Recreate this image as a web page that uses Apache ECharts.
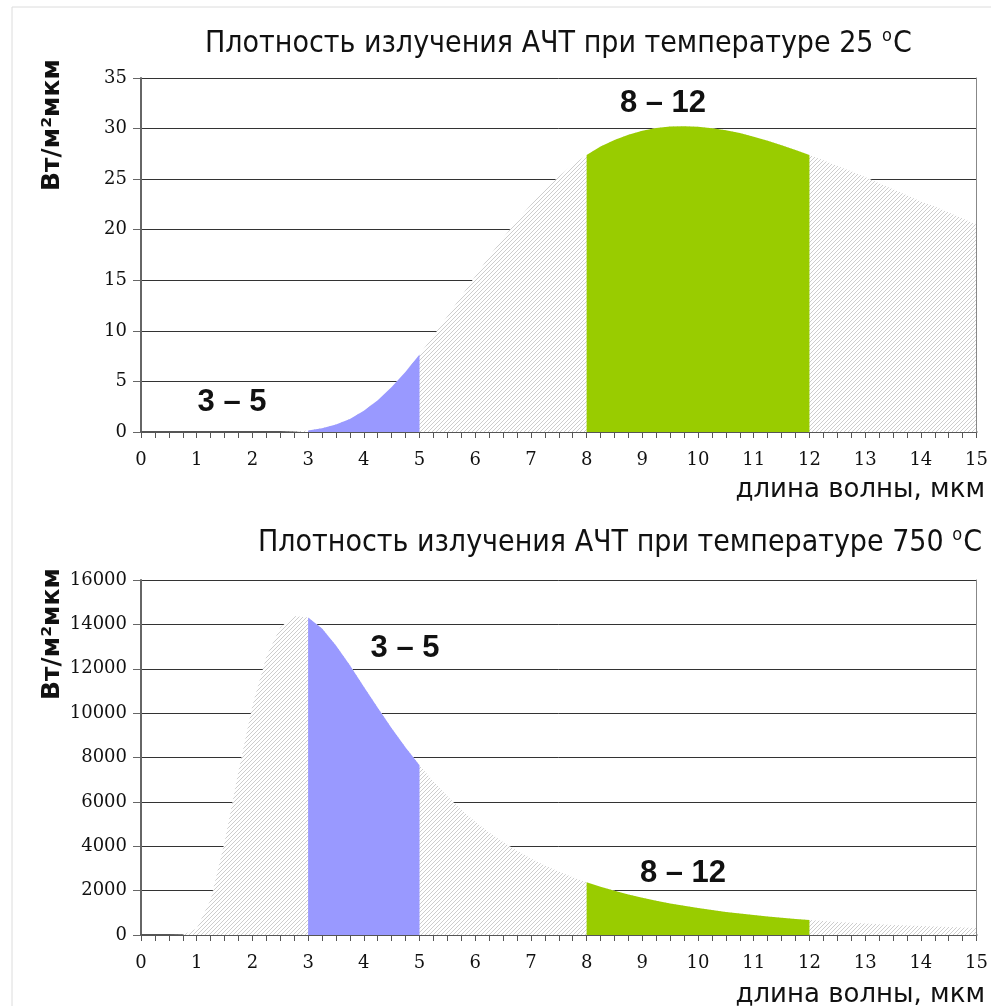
<!DOCTYPE html>
<html><head><meta charset="utf-8">
<script src="https://cdn.jsdelivr.net/npm/echarts@6/dist/echarts.min.js"></script>
<style>html,body{margin:0;padding:0;background:#fff}#c{width:991px;height:1006px}</style>
</head><body><div id="c"></div>
<script>
// wavelength, µm
const wavelengths = [0,0.25,0.5,0.75,1,1.25,1.5,1.75,2,2.25,2.5,2.75,3,3.25,3.5,3.75,4,4.25,4.5,4.75,5,5.25,5.5,5.75,6,6.25,6.5,6.75,7,7.25,7.5,7.75,8,8.25,8.5,8.75,9,9.25,9.5,9.75,10,10.25,10.5,10.75,11,11.25,11.5,11.75,12,12.25,12.5,12.75,13,13.25,13.5,13.75,14,14.25,14.5,14.75,15];
// spectral density at 25 °C, W/m²µm
const density25 = [0,0,0,0,0,0,0,0,0,0,0.01,0.06,0.16,0.36,0.73,1.29,2.09,3.15,4.44,5.96,7.66,9.51,11.44,13.41,15.41,17.34,19.19,20.91,22.5,23.97,25.27,26.43,27.39,28.22,28.88,29.39,29.78,30.05,30.21,30.23,30.18,30.04,29.83,29.55,29.19,28.8,28.36,27.89,27.39,26.86,26.31,25.77,25.2,24.6,24.0,23.4,22.8,22.3,21.7,21.1,20.5];
// spectral density at 750 °C, W/m²µm
const density750 = [0,0,0,11,292,1592,4176,7374,10337,12540,13858,14383,14312,13811,13049,12153,11192,10238,9319,8447,7647,6914,6248,5642,5108,4622,4188,3793,3447,3135,2857,2604,2379,2176,1994,1829,1681,1548,1422,1315,1215,1125,1040,965,897,834,775,723,674,631,590,552,517,485,455,428,402,379,356,335,317];
const bandShort = [3,5];
const bandLong = [8,12];
const bandShortLabel = '3 – 5';
const bandLongLabel = '8 – 12';
const titleText = 'Плотность излучения АЧТ при температуре ';
const temps = ['25', '750'];
const yName = 'Вт/м²мкм';
const xName = 'длина волны, мкм';
const xRange = [0, 15, 1];
const yRange25 = [0, 35, 5];
const yRange750 = [0, 16000, 2000];

function hatch() {
  const c = document.createElement('canvas');
  c.width = 4; c.height = 4;
  const g = c.getContext('2d');
  g.fillStyle = '#ffffff'; g.fillRect(0, 0, 4, 4);
  g.strokeStyle = '#cdcdcd'; g.lineWidth = 1;
  g.beginPath();
  g.moveTo(0, 4); g.lineTo(4, 0);
  g.moveTo(-1, 1); g.lineTo(1, -1);
  g.moveTo(3, 5); g.lineTo(5, 3);
  g.stroke();
  return c;
}
const hatchPattern = { image: hatch(), repeat: 'repeat' };

function areaSeries(gi, values, range, color) {
  return {
    type: 'line', xAxisIndex: gi, yAxisIndex: gi * 2,
    data: wavelengths.map((x, i) => (!range || (x >= range[0] && x <= range[1])) ? [x, values[i]] : [x, '-']),
    symbol: 'none', showSymbol: false, lineStyle: { width: 0 },
    areaStyle: { color: color, opacity: 1 }, silent: true, connectNulls: false
  };
}

const gridDefs = [
  { left: 141, top: 78, width: 836, height: 354 },
  { left: 141, top: 580, width: 836, height: 355 }
];
const labelFont = { fontFamily: 'DejaVu Serif', fontSize: 18, color: '#111' };

function xAxis(gi) {
  return {
    type: 'value', gridIndex: gi, min: xRange[0], max: xRange[1], interval: xRange[2],
    axisLine: { show: true, onZero: false, lineStyle: { color: '#555', width: 2 } },
    axisTick: { show: true, length: 6, lineStyle: { color: '#555' } },
    minorTick: { show: true, splitNumber: 4, length: 6, lineStyle: { color: '#555' } },
    splitLine: { show: false },
    axisLabel: Object.assign({ margin: 19 }, labelFont)
  };
}
function yAxes(gi, r) {
  return [{
    type: 'value', gridIndex: gi, min: r[0], max: r[1], interval: r[2],
    axisLine: { show: true, lineStyle: { color: '#666', width: 2 } },
    axisTick: { show: true, length: 8, lineStyle: { color: '#666' } },
    splitLine: { show: true, lineStyle: { color: '#333', width: 1 } },
    axisLabel: Object.assign({ margin: 14, formatter: v => String(v) }, labelFont)
  }, {
    type: 'value', gridIndex: gi, position: 'right', min: r[0], max: r[1], interval: r[2], z: 10,
    axisLine: { show: true, lineStyle: { color: '#888', width: 1 } },
    axisTick: { show: false }, axisLabel: { show: false }, splitLine: { show: false }
  }];
}

const titleFamily = "'Liberation Sans Narrow','DejaVu Sans Condensed','Liberation Sans',sans-serif";
function titleGraphic(x, y, t) {
  return {
    type: 'text', x: x, y: y,
    style: {
      text: '{a|' + titleText + t + ' }{s|o}{a|C}',
      verticalAlign: 'middle', align: 'left', fill: '#111',
      rich: {
        a: { font: '30px ' + titleFamily, fill: '#111' },
        s: { font: '18px ' + titleFamily, fill: '#111', padding: [0, 1, 15, 0] }
      }
    }
  };
}
function yNameGraphic(x, y) {
  return { type: 'text', x: x, y: y, rotation: Math.PI / 2,
    style: { text: yName, font: "bold 25px 'DejaVu Sans',sans-serif", fill: '#111', align: 'center', verticalAlign: 'middle' } };
}
function xNameGraphic(x, y) {
  return { type: 'text', x: x, y: y,
    style: { text: xName, font: "26px 'DejaVu Sans',sans-serif", fill: '#111', align: 'right', verticalAlign: 'middle' } };
}
function bandLabel(x, y, t) {
  return { type: 'text', x: x, y: y,
    style: { text: t, font: "bold 31px 'Liberation Sans',Arial,sans-serif", fill: '#111', align: 'center', verticalAlign: 'middle' } };
}

const chart = echarts.init(document.getElementById('c'), null, { renderer: 'canvas' });
chart.setOption({
  animation: false,
  backgroundColor: '#fff',
  grid: gridDefs,
  xAxis: [xAxis(0), xAxis(1)],
  yAxis: yAxes(0, yRange25).concat(yAxes(1, yRange750)),
  series: [
    areaSeries(0, density25, null, hatchPattern),
    areaSeries(0, density25, bandShort, '#9999FF'),
    areaSeries(0, density25, bandLong, '#99CC00'),
    areaSeries(1, density750, null, hatchPattern),
    areaSeries(1, density750, bandShort, '#9999FF'),
    areaSeries(1, density750, bandLong, '#99CC00')
  ],
  graphic: [
    { type: 'rect', shape: { x: 12, y: 7, width: 1000, height: 1010 }, style: { fill: 'none', stroke: '#dcdcdc', lineWidth: 1 }, silent: true },
    titleGraphic(205, 44, temps[0]),
    titleGraphic(258, 543, temps[1]),
    yNameGraphic(52, 125),
    yNameGraphic(52, 634),
    xNameGraphic(985, 490),
    xNameGraphic(985, 995),
    bandLabel(232, 402, bandShortLabel),
    bandLabel(663, 103, bandLongLabel),
    bandLabel(405, 648, bandShortLabel),
    bandLabel(683, 873, bandLongLabel)
  ]
});
</script>
</body></html>
